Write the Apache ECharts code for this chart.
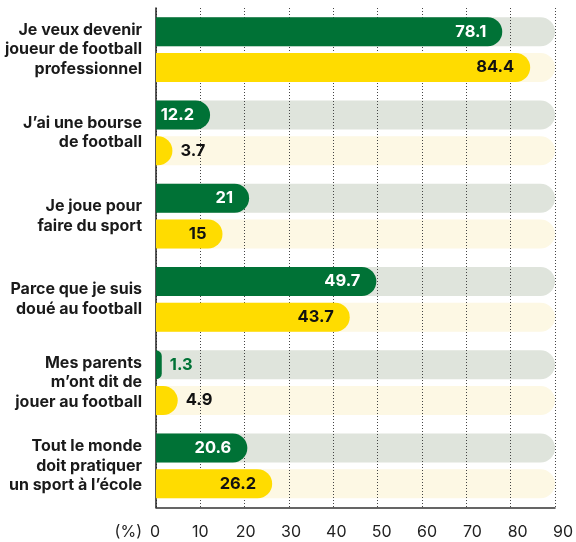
<!DOCTYPE html>
<html>
<head>
<meta charset="utf-8">
<script src="https://cdn.jsdelivr.net/npm/echarts@6/dist/echarts.min.js"></script>
<style>html,body{margin:0;padding:0;background:#fff}#c{width:576px;height:542px}</style>
</head>
<body>
<div id="c"></div>
<script>
const categories = [
  "Je veux devenir\njoueur de football\nprofessionnel",
  "J’ai une bourse\nde football",
  "Je joue pour\nfaire du sport",
  "Parce que je suis\ndoué au football",
  "Mes parents\nm’ont dit de\njouer au football",
  "Tout le monde\ndoit pratiquer\nun sport à l’école"
];
const greenValues = [78.1, 12.2, 21, 49.7, 1.3, 20.6];
const yellowValues = [84.4, 3.7, 15, 43.7, 4.9, 26.2];
const xTicks = [0, 10, 20, 30, 40, 50, 60, 70, 80, 90];

const xMin = xTicks[0], xMax = xTicks[xTicks.length - 1];
const GREEN = '#007236', YELLOW = '#ffdc00';
const FONT = 'Inter';
const TOP = 8, BOTTOM = 34.5;

function items(vals, insideColor, outsideColor) {
  return vals.map(v => ({
    value: v,
    label: v < 6
      ? { position: 'right', distance: 8, color: outsideColor }
      : { position: 'insideRight', distance: 16, color: insideColor }
  }));
}
const fullTrack = categories.map(() => xMax);

const barCommon = { type: 'bar', barWidth: 29, barGap: '23%' };

const chart = echarts.init(document.getElementById('c'));
chart.setOption({
  animation: false,
  grid: [
    { left: 156, right: 21, top: TOP, bottom: BOTTOM },
    { left: 155, right: 13, top: TOP, bottom: BOTTOM }
  ],
  xAxis: [
    {
      type: 'value', gridIndex: 0, min: xMin, max: xMax, interval: 10, z: 2,
      axisLine: { show: true, onZero: false, lineStyle: { color: '#333', width: 1.5 } },
      axisTick: { show: false },
      axisLabel: { show: false },
      splitLine: { show: true, lineStyle: { color: '#444', type: [1, 2], width: 1 } }
    },
    {
      type: 'value', gridIndex: 1, min: xMin, max: xMax, interval: 10,
      name: '(%)', nameLocation: 'start', nameGap: 13,
      nameTextStyle: { fontFamily: FONT, fontSize: 16, color: '#222', verticalAlign: 'top', padding: [17, 0, 0, 0] },
      axisLine: { show: false, onZero: false },
      axisTick: { show: false },
      splitLine: { show: false },
      axisLabel: { fontFamily: FONT, fontSize: 16, color: '#222', margin: 17 }
    }
  ],
  yAxis: [
    {
      type: 'category', gridIndex: 0, data: categories, inverse: true, z: 2,
      axisLine: { show: true, lineStyle: { color: '#222', width: 1.5 } },
      axisTick: { show: false },
      axisLabel: { fontFamily: FONT, fontSize: 16, fontWeight: 'bold', color: '#1a1a1a', lineHeight: 19.5, margin: 14, align: 'right' }
    },
    {
      type: 'category', gridIndex: 0, data: categories, inverse: true, show: false
    },
    {
      type: 'category', gridIndex: 1, data: categories, inverse: true, show: false
    }
  ],
  series: [
    Object.assign({}, barCommon, {
      name: 'trackGreen', xAxisIndex: 0, yAxisIndex: 1, data: fullTrack, z: 1, silent: true,
      itemStyle: { color: '#dfe4dc', borderRadius: [0, 15, 15, 0] }
    }),
    Object.assign({}, barCommon, {
      name: 'trackYellow', xAxisIndex: 0, yAxisIndex: 1, data: fullTrack, z: 1, silent: true,
      itemStyle: { color: '#fdf8e4', borderRadius: [0, 15, 15, 0] }
    }),
    Object.assign({}, barCommon, {
      name: 'green', xAxisIndex: 0, yAxisIndex: 0, data: items(greenValues, '#fff', GREEN), z: 3,
      itemStyle: { color: GREEN, borderRadius: [0, 15, 15, 0] },
      label: { show: true, fontFamily: FONT, fontSize: 16.5, fontWeight: 'bold' }
    }),
    Object.assign({}, barCommon, {
      name: 'yellow', xAxisIndex: 0, yAxisIndex: 0, data: items(yellowValues, '#111', '#111'), z: 3,
      itemStyle: { color: YELLOW, borderRadius: [0, 15, 15, 0] },
      label: { show: true, fontFamily: FONT, fontSize: 16.5, fontWeight: 'bold' }
    })
  ]
});
</script>
</body>
</html>
